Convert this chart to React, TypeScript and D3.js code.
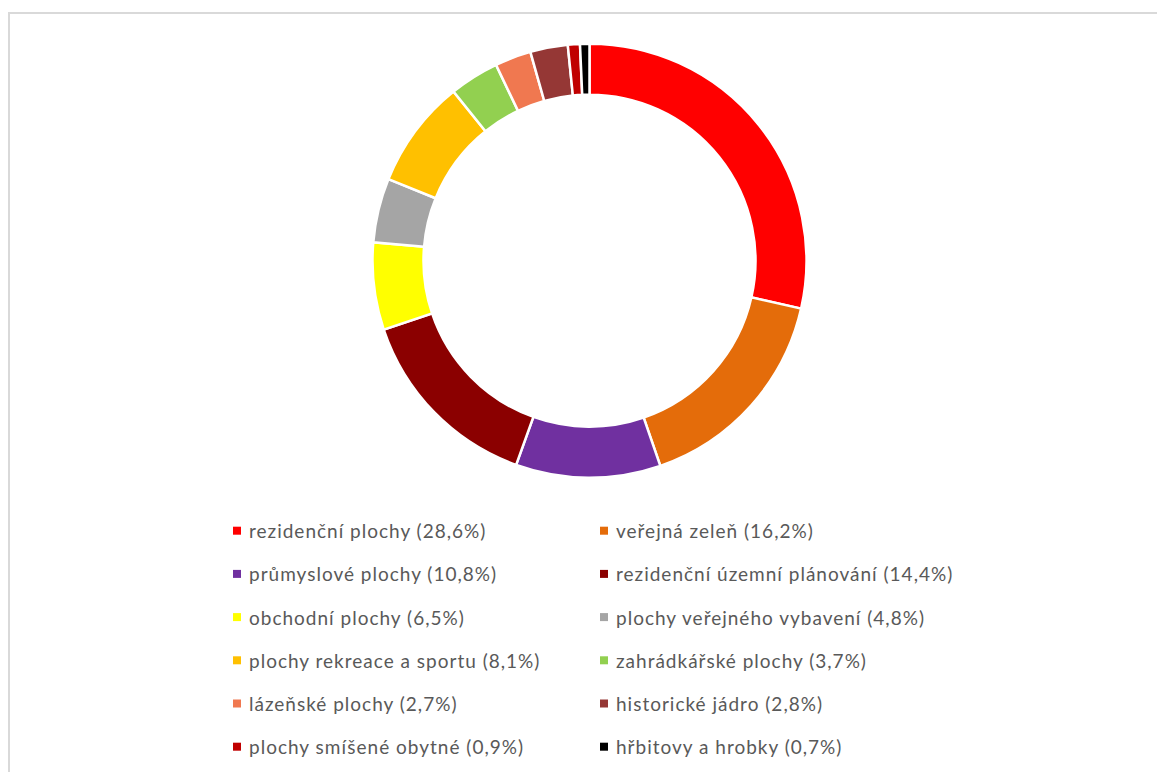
import React from "react";
import * as d3 from "d3";

const categories = [
  "rezidenční plochy",
  "veřejná zeleň",
  "průmyslové plochy",
  "rezidenční územní plánování",
  "obchodní plochy",
  "plochy veřejného vybavení",
  "plochy rekreace a sportu",
  "zahrádkářské plochy",
  "lázeňské plochy",
  "historické jádro",
  "plochy smíšené obytné",
  "hřbitovy a hrobky",
];
const values = [28.6, 16.2, 10.8, 14.4, 6.5, 4.8, 8.1, 3.7, 2.7, 2.8, 0.9, 0.7];
const labels = [
  "28,6%", "16,2%", "10,8%", "14,4%", "6,5%", "4,8%",
  "8,1%", "3,7%", "2,7%", "2,8%", "0,9%", "0,7%",
];
const colors = [
  "#FF0000", "#E46C0A", "#7030A0", "#8B0000", "#FFFF00", "#A5A5A5",
  "#FFC000", "#92D050", "#F07850", "#953735", "#C00000", "#000000",
];

const W = 1157;
const H = 772;
const CX = 589.5;
const CY = 260.7;
const R = 217;
const RI = 166;

export default function App() {
  const pie = d3.pie<number>().sort(null).value((d) => d);
  const arcs = pie(values);
  const arc = d3.arc<d3.PieArcDatum<number>>().innerRadius(RI).outerRadius(R);

  const rowY = d3.scaleLinear().domain([0, 5]).range([530.7, 746.7]);
  const colX = [233, 600];

  return (
    <svg
      width={W}
      height={H}
      style={{ position: "absolute", left: 0, top: 0, background: "#fff" }}
    >
      <rect x={0} y={0} width={W} height={H} fill="#fff" />
      <path d="M9 772 V13 H1157" fill="none" stroke="#D9D9D9" strokeWidth={2} />
      <g transform={`translate(${CX},${CY})`}>
        {arcs.map((a, i) => (
          <path
            key={i}
            d={arc(a) || ""}
            fill={colors[i]}
            stroke="#fff"
            strokeWidth={2.5}
          />
        ))}
      </g>
      <g
        fontFamily="Lato, 'Open Sans', sans-serif"
        fontSize={19}
        letterSpacing={1}
        fill="#595959"
      >
        {categories.map((c, i) => {
          const col = i % 2;
          const row = Math.floor(i / 2);
          const y = rowY(row);
          const x = colX[col];
          return (
            <g key={c}>
              <rect x={x} y={y - 4} width={8} height={8} fill={colors[i]} />
              <text x={x + 16} y={y + 7.5}>
                {`${c} (${labels[i]})`}
              </text>
            </g>
          );
        })}
      </g>
    </svg>
  );
}
